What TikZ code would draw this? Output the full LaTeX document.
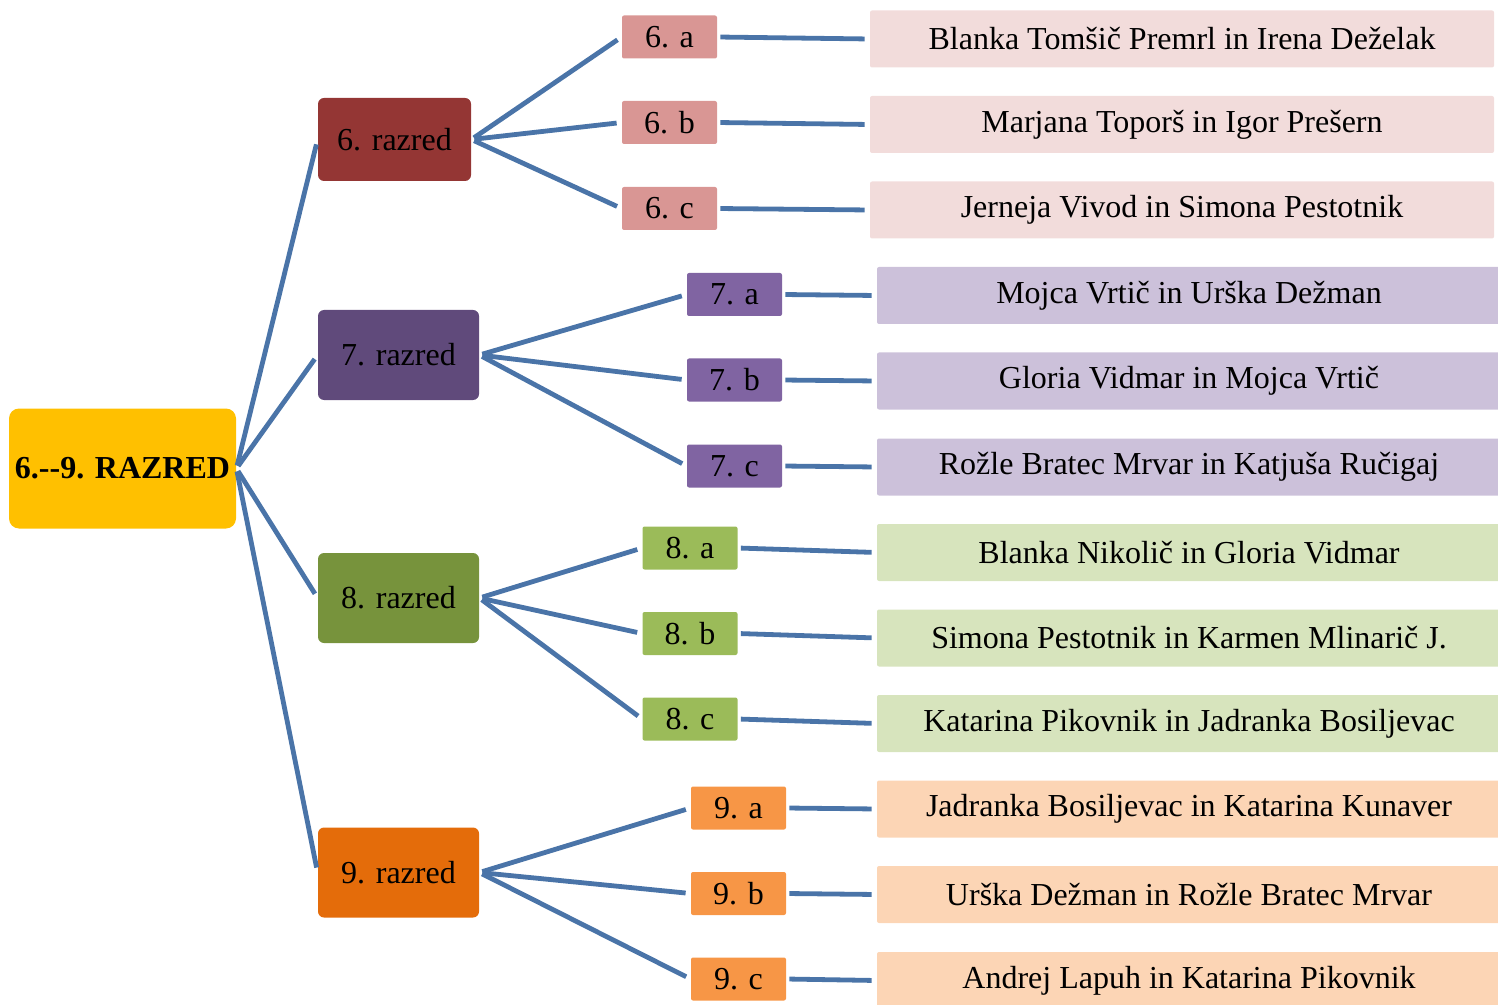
\documentclass[tikz,border=0pt]{standalone}
\usepackage{fontspec}
\setmainfont{Liberation Serif}
\usepackage{xcolor}
\usetikzlibrary{positioning}
\definecolor{rootyellow}{HTML}{FFC000}
\definecolor{sixdark}{HTML}{943634}
\definecolor{sixmid}{HTML}{D99694}
\definecolor{sixlight}{HTML}{F2DCDB}
\definecolor{sevendark}{HTML}{604A7B}
\definecolor{sevenmid}{HTML}{8064A2}
\definecolor{sevenlight}{HTML}{CCC1DA}
\definecolor{eightdark}{HTML}{77933C}
\definecolor{eightmid}{HTML}{9BBB59}
\definecolor{eightlight}{HTML}{D7E4BD}
\definecolor{ninedark}{HTML}{E46C0A}
\definecolor{ninemid}{HTML}{F79646}
\definecolor{ninelight}{HTML}{FCD5B5}
\definecolor{linkblue}{HTML}{4A74A8}
\tikzstyle{root}  = [rectangle, rounded corners=5pt, minimum width=113.5pt, minimum height=60pt, inner sep=0pt, text centered, fill=rootyellow, font=\fontsize{16}{19}\selectfont\bfseries]
\tikzstyle{grade} = [rectangle, rounded corners=3pt, minimum width=80.5pt, minimum height=45pt, inner sep=0pt, text centered, font=\fontsize{16}{19}\selectfont]
\tikzstyle{klass} = [rectangle, rounded corners=1pt, minimum width=47.5pt, minimum height=21.5pt, inner sep=0pt, text centered, font=\fontsize{16}{19}\selectfont]
\tikzstyle{names} = [rectangle, rounded corners=1pt, minimum width=312pt, minimum height=28.5pt, inner sep=0pt, text centered, font=\fontsize{16}{19}\selectfont]
\tikzstyle{link}  = [line width=2.4pt, draw=linkblue, shorten <=1.5pt, shorten >=2.5pt]

\begin{document}
\begin{tikzpicture}[x=0.5pt, y=-0.5pt]
            \useasboundingbox (0,0) rectangle (1498,1005);
            % root and grades
            \node[root] (all) at (122.5,468.5) {6.-{}-9. RAZRED};
            \node[grade, fill=sixdark, minimum width=76.5pt, minimum height=41.5pt] (g6) at (394.5,139.5) {6. razred};
            \node[grade, fill=sevendark] (g7) at (398.5,355) {7. razred};
            \node[grade, fill=eightdark] (g8) at (398.5,598) {8. razred};
            \node[grade, fill=ninedark]  (g9) at (398.5,872.5) {9. razred};

            % classes
            \node[klass, fill=sixmid] (c6a) at (669.5,37)  {6. a};
            \node[klass, fill=sixmid] (c6b) at (669.5,122.5) {6. b};
            \node[klass, fill=sixmid] (c6c) at (669.5,208.5) {6. c};
            \node[klass, fill=sevenmid] (c7a) at (734.5,294.5) {7. a};
            \node[klass, fill=sevenmid] (c7b) at (734.5,380) {7. b};
            \node[klass, fill=sevenmid] (c7c) at (734.5,466) {7. c};
            \node[klass, fill=eightmid] (c8a) at (690,548) {8. a};
            \node[klass, fill=eightmid] (c8b) at (690,633.5) {8. b};
            \node[klass, fill=eightmid] (c8c) at (690,719) {8. c};
            \node[klass, fill=ninemid] (c9a) at (738.5,808) {9. a};
            \node[klass, fill=ninemid] (c9b) at (738.5,893.5) {9. b};
            \node[klass, fill=ninemid] (c9c) at (738.5,979) {9. c};

            % teachers
            \node[names, fill=sixlight] (n6a) at (1182,39)    {Blanka Tomšič Premrl in Irena Deželak};
            \node[names, fill=sixlight] (n6b) at (1182,124.5) {Marjana Toporš in Igor Prešern};
            \node[names, fill=sixlight] (n6c) at (1182,210)   {Jerneja Vivod in Simona Pestotnik};
            \node[names, fill=sevenlight] (n7a) at (1189,295.5) {Mojca Vrtič in Urška Dežman};
            \node[names, fill=sevenlight] (n7b) at (1189,381)   {Gloria Vidmar in Mojca Vrtič};
            \node[names, fill=sevenlight] (n7c) at (1189,467)   {Rožle Bratec Mrvar in Katjuša Ručigaj};
            \node[names, fill=eightlight] (n8a) at (1189,552.5) {Blanka Nikolič in Gloria Vidmar};
            \node[names, fill=eightlight] (n8b) at (1189,638)   {Simona Pestotnik in Karmen Mlinarič J.};
            \node[names, fill=eightlight] (n8c) at (1189,723.5) {Katarina Pikovnik in Jadranka Bosiljevac};
            \node[names, fill=ninelight] (n9a) at (1189,809)   {Jadranka Bosiljevac in Katarina Kunaver};
            \node[names, fill=ninelight] (n9b) at (1189,894.5) {Urška Dežman in Rožle Bratec Mrvar};
            \node[names, fill=ninelight] (n9c) at (1189,980.5) {Andrej Lapuh in Katarina Pikovnik};

            \draw[link] (all.east) -- (g6.west);
            \draw[link] (all.east) -- (g7.west);
            \draw[link] (all.east) -- (g8.west);
            \draw[link] (all.east) -- (g9.west);

            \draw[link] (g6.east) -- (c6a.west);
            \draw[link] (g6.east) -- (c6b.west);
            \draw[link] (g6.east) -- (c6c.west);
            \draw[link] (g7.east) -- (c7a.west);
            \draw[link] (g7.east) -- (c7b.west);
            \draw[link] (g7.east) -- (c7c.west);
            \draw[link] (g8.east) -- (c8a.west);
            \draw[link] (g8.east) -- (c8b.west);
            \draw[link] (g8.east) -- (c8c.west);
            \draw[link] (g9.east) -- (c9a.west);
            \draw[link] (g9.east) -- (c9b.west);
            \draw[link] (g9.east) -- (c9c.west);

            \draw[link] (c6a.east) -- (n6a.west);
            \draw[link] (c6b.east) -- (n6b.west);
            \draw[link] (c6c.east) -- (n6c.west);
            \draw[link] (c7a.east) -- (n7a.west);
            \draw[link] (c7b.east) -- (n7b.west);
            \draw[link] (c7c.east) -- (n7c.west);
            \draw[link] (c8a.east) -- (n8a.west);
            \draw[link] (c8b.east) -- (n8b.west);
            \draw[link] (c8c.east) -- (n8c.west);
            \draw[link] (c9a.east) -- (n9a.west);
            \draw[link] (c9b.east) -- (n9b.west);
            \draw[link] (c9c.east) -- (n9c.west);
        \end{tikzpicture}
\end{document}
